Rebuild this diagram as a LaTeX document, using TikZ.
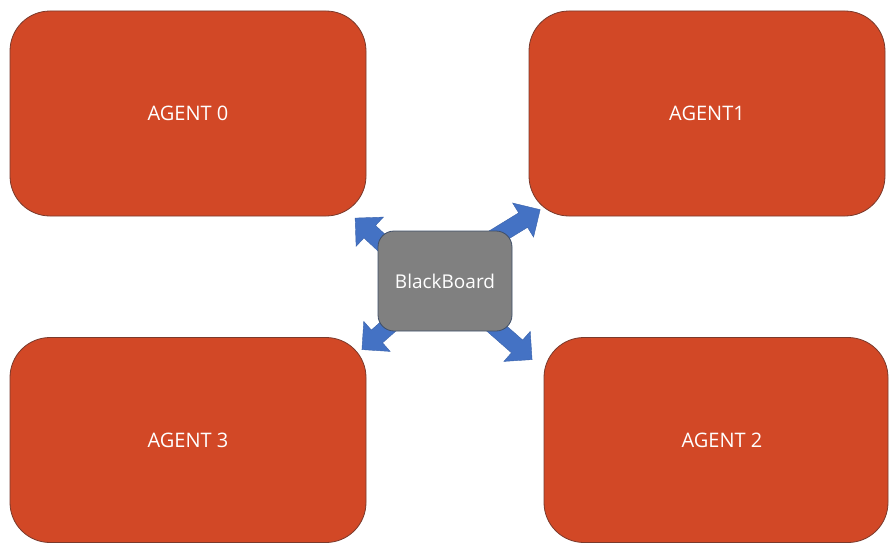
\documentclass[tikz,border=0pt]{standalone}
\usepackage{fontspec}
\setmainfont{Open Sans}
\definecolor{agentfill}{HTML}{D24826}
\definecolor{agentline}{HTML}{7A3A2C}
\definecolor{boardfill}{HTML}{808080}
\definecolor{boardline}{HTML}{3E4E68}
\definecolor{arrowblue}{HTML}{4472C4}
\definecolor{arrowline}{HTML}{3A62AA}
\tikzset{
  agent/.style={draw=agentline, line width=0.8pt, fill=agentfill, rounded corners=40pt,
    minimum width=356pt, minimum height=205pt, text=white, font=\fontsize{20}{24}\selectfont,
    inner sep=0pt},
  board/.style={draw=boardline, line width=0.8pt, fill=boardfill, rounded corners=16pt,
    minimum width=134pt, minimum height=100pt, text=white, font=\fontsize{19}{22}\selectfont,
    inner sep=0pt},
  blockarrow/.style={fill=arrowblue, draw=arrowline, line width=0.4pt, line join=miter}
}
% block arrow of length 60 pointing along the x axis of the current frame
\newcommand{\blockarrowpath}{(0,-8.5) -- (40,-8.5) -- (40,-20) -- (60,0) -- (40,20) -- (40,8.5) -- (0,8.5) -- cycle}
\begin{document}
\begin{tikzpicture}[x=1pt, y=-1pt]
\useasboundingbox (0,0) rectangle (889,543);

% the four agents
\node[agent] (a0) at (188,113.5) {AGENT 0};
\node[agent] (a1) at (707,113.5) {AGENT1};
\node[agent] (a3) at (188,440) {AGENT 3};
\node[agent, minimum width=344pt] (a2) at (716,440) {\hspace*{12pt}AGENT 2};

% arrow bases, hidden under the blackboard
\coordinate (bUL) at (399,259);
\coordinate (bUR) at (489,241);
\coordinate (bLL) at (407,310);
\coordinate (bLR) at (487,320);

\draw[blockarrow, shift={(bUL)}, rotate=137] \blockarrowpath;
\draw[blockarrow, shift={(bUR)}, rotate=31.5] \blockarrowpath;
\draw[blockarrow, shift={(bLL)}, rotate=-138.7] \blockarrowpath;
\draw[blockarrow, shift={(bLR)}, rotate=-41.3] \blockarrowpath;

% shared blackboard
\node[board] (bb) at (445,281) {BlackBoard};
\end{tikzpicture}
\end{document}
